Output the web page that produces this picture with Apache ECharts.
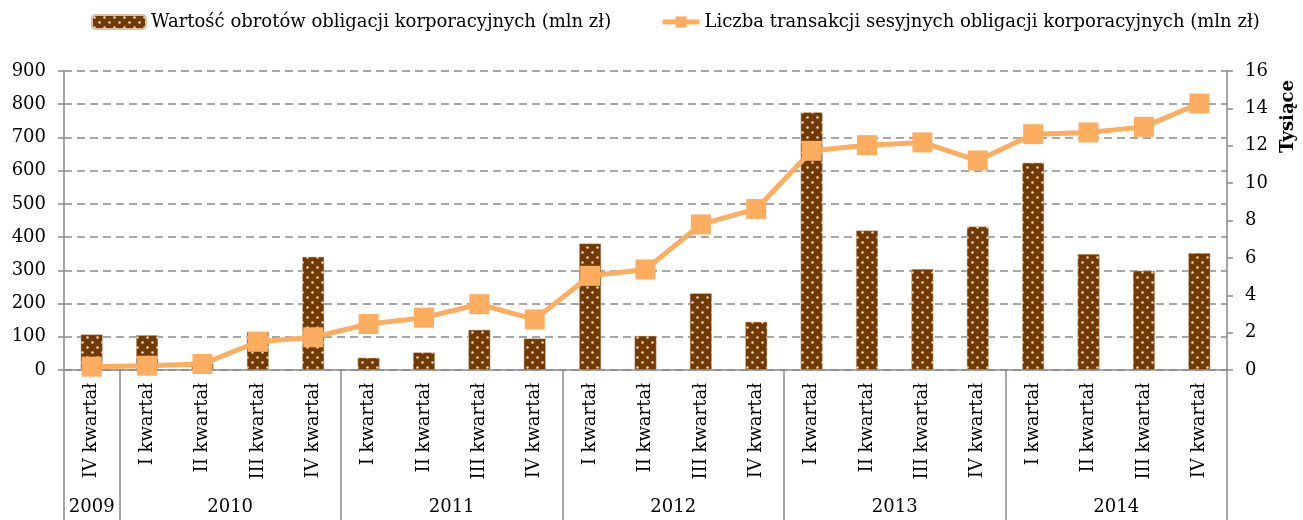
<!DOCTYPE html>
<html>
<head>
<meta charset="utf-8">
<script src="https://cdn.jsdelivr.net/npm/echarts@6/dist/echarts.min.js"></script>
<style>
  html, body { margin: 0; padding: 0; background: #fff; }
  #main { width: 1303px; height: 520px; }
</style>
</head>
<body>
<div id="main"></div>
<script>
// kwartały na osi X
var quarters = ['IV kwartał',
  'I kwartał', 'II kwartał', 'III kwartał', 'IV kwartał',
  'I kwartał', 'II kwartał', 'III kwartał', 'IV kwartał',
  'I kwartał', 'II kwartał', 'III kwartał', 'IV kwartał',
  'I kwartał', 'II kwartał', 'III kwartał', 'IV kwartał',
  'I kwartał', 'II kwartał', 'III kwartał', 'IV kwartał'];
var years = ['2009', '2010', '2011', '2012', '2013', '2014'];
var quartersPerYear = [1, 4, 4, 4, 4, 4];

// Wartość obrotów (mln zł) - lewa oś
var turnover = [107, 105, 20, 115, 341, 37, 53, 121, 95, 381, 103, 231, 145,
  776, 420, 304, 432, 624, 349, 299, 352];
// Liczba transakcji (tysiące) - prawa oś
var transactions = [0.18, 0.23, 0.32, 1.51, 1.75, 2.46, 2.8, 3.52, 2.71, 5.04, 5.38,
  7.79, 8.62, 11.73, 12.03, 12.18, 11.21, 12.62, 12.71, 13.01, 14.26];

var leftTicks = [0, 900, 100];
var rightTicks = [0, 16, 2];

var names = ['Wartość obrotów obligacji korporacyjnych (mln zł)',
  'Liczba transakcji sesyjnych obligacji korporacyjnych (mln zł)'];

// granice lat i środki podpisów lat na osi pomocniczej
var yearBounds = [0];
var yearCenters = [];
quartersPerYear.forEach(function (n, i) {
  var start = yearBounds[i];
  yearBounds.push(start + n);
  yearCenters.push(start + n / 2);
});

// wzór kropek dla słupków
function dotPattern() {
  var c = document.createElement('canvas');
  c.width = 10; c.height = 10;
  var ctx = c.getContext('2d');
  ctx.fillStyle = '#713a03';
  ctx.fillRect(0, 0, 10, 10);
  ctx.fillStyle = '#e9d6c2';
  [[2.5, 2.5], [7.5, 7.5]].forEach(function (p) {
    ctx.beginPath();
    ctx.arc(p[0], p[1], 1.3, 0, Math.PI * 2);
    ctx.fill();
  });
  return c;
}

var font = 'DejaVu Serif';
var axisGray = '#8a8a8a';
var lineColor = '#fdad60';
var legendText = { fontFamily: font, fontSize: 18, color: '#000' };

var myChart = echarts.init(document.getElementById('main'));
var option = {
  animation: false,
  textStyle: { fontFamily: font, color: '#000' },
  legend: [
    {
      left: 86,
      top: 8,
      itemWidth: 54,
      itemHeight: 14,
      textStyle: legendText,
      data: [names[0]]
    },
    {
      left: 655,
      top: 8,
      itemWidth: 37,
      itemHeight: 14,
      textStyle: legendText,
      data: [{
        name: names[1],
        lineStyle: { width: 5, color: lineColor }
      }]
    }
  ],
  grid: {
    left: 64,
    right: 76,
    top: 71,
    bottom: 150,
    outerBoundsMode: 'none'
  },
  xAxis: [
    {
      type: 'category',
      data: quarters,
      axisLine: { lineStyle: { color: axisGray, width: 1.5 } },
      axisTick: { length: 112, lineStyle: { color: axisGray, width: 1.5 } },
      axisLabel: {
        interval: 0,
        rotate: 90,
        margin: 13,
        fontFamily: font,
        fontSize: 18,
        color: '#000'
      }
    },
    {
      type: 'value',
      position: 'bottom',
      min: 0,
      max: quarters.length,
      axisLine: { show: false },
      splitLine: { show: false },
      axisTick: {
        show: true,
        customValues: yearBounds,
        length: 150,
        lineStyle: { color: axisGray, width: 1.5 }
      },
      axisLabel: {
        customValues: yearCenters,
        margin: 128,
        fontFamily: font,
        fontSize: 18,
        color: '#000',
        formatter: function (v) {
          var i = yearCenters.indexOf(v);
          return i >= 0 ? years[i] : '';
        }
      }
    }
  ],
  yAxis: [
    {
      type: 'value',
      min: leftTicks[0],
      max: leftTicks[1],
      interval: leftTicks[2],
      axisLine: { show: true, lineStyle: { color: axisGray, width: 1.5 } },
      axisTick: { show: true, length: 6, lineStyle: { color: axisGray, width: 1.5 } },
      axisLabel: { margin: 18, fontFamily: font, fontSize: 18, color: '#000' },
      splitLine: {
        lineStyle: { color: axisGray, width: 1.5, type: [8, 5] }
      }
    },
    {
      type: 'value',
      min: rightTicks[0],
      max: rightTicks[1],
      interval: rightTicks[2],
      position: 'right',
      name: 'Tysiące',
      nameLocation: 'end',
      nameRotate: 90,
      nameGap: -9,
      nameTextStyle: {
        fontFamily: font,
        fontSize: 18,
        fontWeight: 'bold',
        color: '#000',
        align: 'right',
        verticalAlign: 'top',
        padding: [52, 0, 0, 0]
      },
      axisLine: { show: true, lineStyle: { color: axisGray, width: 1.5 } },
      axisTick: { show: true, length: 6, lineStyle: { color: axisGray, width: 1.5 } },
      axisLabel: { margin: 18, fontFamily: font, fontSize: 18, color: '#000' },
      splitLine: { show: false }
    }
  ],
  series: [
    {
      name: names[0],
      type: 'bar',
      xAxisIndex: 0,
      yAxisIndex: 0,
      barWidth: 22,
      itemStyle: {
        color: { image: dotPattern(), repeat: 'repeat' },
        borderColor: '#d9bfa5',
        borderWidth: 0.5
      },
      data: turnover
    },
    {
      name: names[1],
      type: 'line',
      xAxisIndex: 0,
      yAxisIndex: 1,
      symbol: 'rect',
      symbolSize: 20,
      lineStyle: { color: lineColor, width: 5 },
      itemStyle: { color: lineColor },
      z: 3,
      data: transactions
    }
  ]
};
myChart.setOption(option);
</script>
</body>
</html>
